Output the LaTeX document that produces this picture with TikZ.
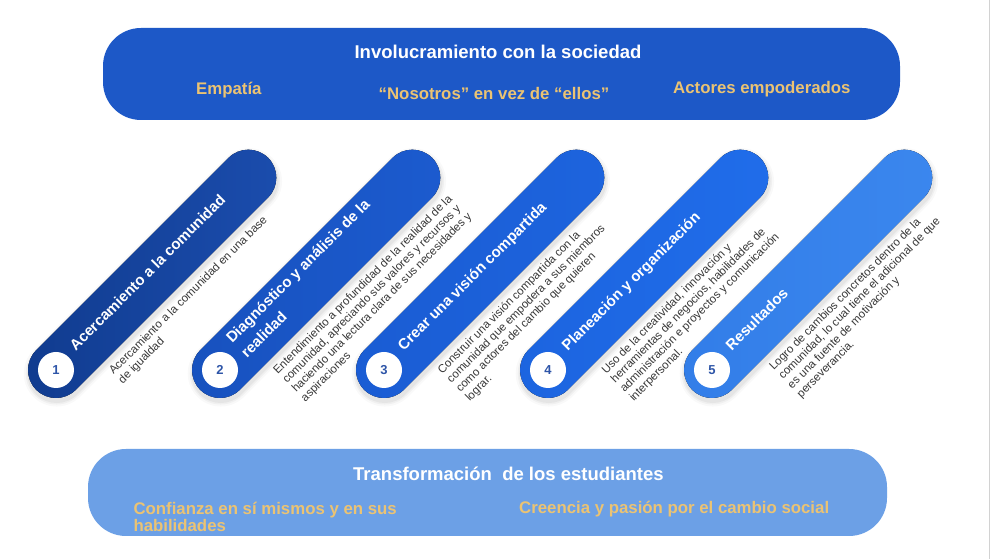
\documentclass[tikz,border=0pt]{standalone}
\usepackage{fontspec}
\setmainfont{Liberation Sans}
\definecolor{topblue}{HTML}{1D58C7}
\definecolor{botblue}{HTML}{6CA0E6}
\definecolor{gold}{HTML}{EBC373}
\definecolor{numblue}{HTML}{2E55A8}
\definecolor{desctext}{HTML}{383838}
\definecolor{pa1}{HTML}{103B8E}
\definecolor{pb1}{HTML}{1B4DAE}
\definecolor{pa2}{HTML}{1751BE}
\definecolor{pb2}{HTML}{1C5BCF}
\definecolor{pa3}{HTML}{1A5CD3}
\definecolor{pb3}{HTML}{1D64DE}
\definecolor{pa4}{HTML}{1C64DF}
\definecolor{pb4}{HTML}{206DEA}
\definecolor{pa5}{HTML}{327DE8}
\definecolor{pb5}{HTML}{3B87EE}
\newcommand{\pillbody}[2]{%
  \foreach \k/\o in {5/0.025,3/0.035,1.5/0.045}{%
    \fill[black, opacity=\o, rounded corners=28+\k]
      (-28-\k-2,-28-\k-3) rectangle (300+\k-2,28+\k-3);}
  \fill[left color=#1, right color=#2, rounded corners=28] (-28,-28) rectangle (300,28);
}
\tikzset{
  pillnum/.style={circle, fill=white, minimum size=36pt, inner sep=0pt, rotate=-45,
    text=numblue, font=\bfseries\fontsize{13}{13}\selectfont},
  pilltitle/.style={text=white, inner sep=0pt, align=left,
    font=\bfseries\fontsize{15}{21}\selectfont},
  pilldesc/.style={text=desctext, inner sep=0pt, align=left, anchor=north west,
    font=\fontsize{11.5}{13}\selectfont},
  bandbox/.style={rounded corners=38pt, inner sep=0pt},
  bandtitle/.style={text=white, inner sep=0pt, font=\bfseries\fontsize{18.5}{20}\selectfont},
  goldtext/.style={text=gold, inner sep=0pt, align=left, font=\bfseries\fontsize{16.8}{17.7}\selectfont}
}
\begin{document}
\begin{tikzpicture}[x=1pt,y=1pt]
\useasboundingbox (0,0) rectangle (991,559);
\fill[white] (0,0) rectangle (991,559);
\draw[gray!35, line width=1pt] (989.5,0) -- (989.5,559);

% top band
\node[bandbox, fill=topblue, minimum width=797pt, minimum height=92pt] (topbox) at (501.5,485) {};
\node[bandtitle, anchor=base] (toptitle) at (498,500) {Involucramiento con la sociedad};
\node[goldtext, anchor=base west] (emp) at (196,464) {Empatía};
\node[goldtext, anchor=base] (nos) at (494,459) {“Nosotros” en vez de “ellos”};
\node[goldtext, anchor=base west] (act) at (673,465) {Actores empoderados};

% bottom band
\node[bandbox, fill=botblue, minimum width=799pt, minimum height=87pt] (botbox) at (487.5,66.5) {};
\node[bandtitle, anchor=base west] (bottitle) at (353,78.3) {Transformación~~de los estudiantes};
\node[goldtext, anchor=north west] (conf) at (133.3,60) {\rule{0pt}{15pt}Confianza en sí mismos y en sus\\habilidades};
\node[goldtext, anchor=base west] (cree) at (519,45) {Creencia y pasión por el cambio social};

% pill 1
\begin{scope}[shift={(56,189)}, rotate=45, transform shape]
  \pillbody{pa1}{pb1}
  \node[pillnum] (n1) at (0,0) {1};
  \node[pilltitle, anchor=base west] (t1) at (27,-1) {Acercamiento a la comunidad};
  \node[pilldesc] (d1) at (37,-34) {\rule{0pt}{10pt}Acercamiento a la comunidad en una base\\de igualdad};
\end{scope}

% pill 2
\begin{scope}[shift={(220,189)}, rotate=45, transform shape]
  \pillbody{pa2}{pb2}
  \node[pillnum] (n2) at (0,0) {2};
  \node[pilltitle, anchor=north west] (t2) at (27,24) {\rule{0pt}{14pt}Diagnóstico y análisis de la\\realidad};
  \node[pilldesc] (d2) at (37.5,-34) {\rule{0pt}{10pt}Entendimiento a profundidad de la realidad de la\\comunidad, apreciando sus valores y recursos y\\haciendo una lectura clara de sus necesidades y\\aspiraciones};
\end{scope}

% pill 3
\begin{scope}[shift={(384,189)}, rotate=45, transform shape]
  \pillbody{pa3}{pb3}
  \node[pillnum] (n3) at (0,0) {3};
  \node[pilltitle, anchor=base west] (t3) at (27,-1) {Crear una visión compartida};
  \node[pilldesc] (d3) at (38,-34) {\rule{0pt}{10pt}Construir una visión compartida con la\\comunidad que empodera a sus miembros\\como actores del cambio que quieren\\lograr.};
\end{scope}

% pill 4
\begin{scope}[shift={(548,189)}, rotate=45, transform shape]
  \pillbody{pa4}{pb4}
  \node[pillnum] (n4) at (0,0) {4};
  \node[pilltitle, anchor=base west] (t4) at (27,-1) {Planeación y organización};
  \node[pilldesc] (d4) at (38,-34) {\rule{0pt}{10pt}Uso de la creatividad, innovación y\\herramientas de negocios, habilidades de\\administración e proyectos y comunicación\\interpersonal.};
\end{scope}

% pill 5
\begin{scope}[shift={(712,189)}, rotate=45, transform shape]
  \pillbody{pa5}{pb5}
  \node[pillnum] (n5) at (0,0) {5};
  \node[pilltitle, anchor=base west] (t5) at (27,-1) {Resultados};
  \node[pilldesc] (d5) at (43,-34) {\rule{0pt}{10pt}Logro de cambios concretos dentro de la\\comunidad, lo cual tiene el adicional de que\\es una fuente de motivación y\\perseverancia.};
\end{scope}
\end{tikzpicture}
\end{document}
